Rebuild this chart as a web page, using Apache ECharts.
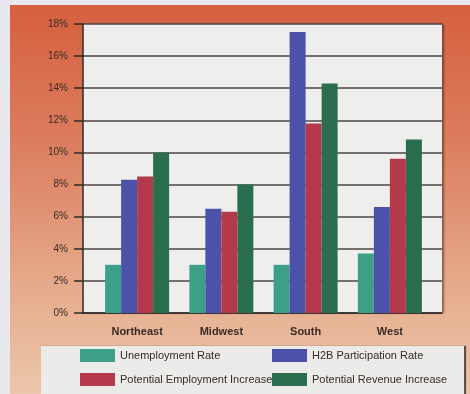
<!DOCTYPE html>
<html><head><meta charset="utf-8">
<script src="https://cdn.jsdelivr.net/npm/echarts@6/dist/echarts.min.js"></script>
<style>html,body{margin:0;padding:0;background:#e9e8ee}#c{width:470px;height:394px}</style>
</head><body><div id="c"></div>
<script>
const categories = ['Northeast', 'Midwest', 'South', 'West'];
const unemploymentRate = [3.0, 3.0, 3.0, 3.7];
const h2bParticipation = [8.3, 6.5, 17.5, 6.6];
const potentialEmployment = [8.5, 6.3, 11.8, 9.6];
const potentialRevenue = [10.0, 8.0, 14.3, 10.8];
const yTicks = [0, 2, 4, 6, 8, 10, 12, 14, 16, 18];

const FONT = '"Liberation Sans", Arial, sans-serif';
const TXT = '#3a2a26';
const colors = { u: '#3e9f88', h: '#4b52a8', e: '#b4394a', r: '#2b6d4f' };

const chart = echarts.init(document.getElementById('c'));
chart.setOption({
  animation: false,
  graphic: [
    { type: 'rect', z: -10, silent: true, shape: { x: 10, y: 5, width: 460, height: 389 },
      style: { fill: new echarts.graphic.LinearGradient(0, 0, 0, 1, [
        { offset: 0, color: '#d6603f' }, { offset: 0.35, color: '#db7d5e' },
        { offset: 0.75, color: '#e6ae8f' }, { offset: 1, color: '#ecc6aa' }]) } },
    { type: 'rect', z: -5, silent: true, shape: { x: 41, y: 346, width: 423, height: 50 },
      style: { fill: '#ebebea', shadowColor: 'rgba(40,30,30,0.7)', shadowOffsetX: 2, shadowBlur: 1 } }
  ],
  grid: [
    { left: 83, right: 28, top: 24, bottom: 81, show: true, backgroundColor: '#eeeeec', borderWidth: 0,
      shadowColor: 'rgba(60,30,20,0.55)', shadowOffsetX: 2, shadowBlur: 2 },
    { left: 95, right: 38, top: 24, bottom: 81 }
  ],
  legend: [
    { data: ['Unemployment Rate', 'Potential Employment Increase'], orient: 'vertical',
      left: 80, top: 349, padding: 0, itemWidth: 35, itemHeight: 13, itemGap: 11,
      textStyle: { fontFamily: FONT, fontSize: 11, color: TXT }, icon: 'rect' },
    { data: ['H2B Participation Rate', 'Potential Revenue Increase'], orient: 'vertical',
      left: 272, top: 349, padding: 0, itemWidth: 35, itemHeight: 13, itemGap: 11,
      textStyle: { fontFamily: FONT, fontSize: 11, color: TXT }, icon: 'rect' }
  ],
  xAxis: [
    { type: 'category', gridIndex: 0, data: categories, axisLabel: { show: false }, axisTick: { show: false },
      axisLine: { lineStyle: { color: '#2e2a2a', width: 1.5 } } },
    { type: 'category', gridIndex: 1, data: categories, axisTick: { show: false }, axisLine: { show: false },
      axisLabel: { fontFamily: FONT, fontSize: 11, fontWeight: 'bold', color: TXT, margin: 13 } }
  ],
  yAxis: [
    { type: 'value', gridIndex: 0, min: yTicks[0], max: yTicks[yTicks.length - 1], interval: 2,
      axisLine: { show: true, lineStyle: { color: '#2e2a2a', width: 1.5 } },
      axisTick: { show: true, length: 9, lineStyle: { color: '#2e2a2a', width: 1.5 } },
      axisLabel: { formatter: '{value}%', fontFamily: FONT, fontSize: 10, color: TXT, margin: 15 },
      splitLine: { lineStyle: { color: '#4a4646', width: 1.5 } } },
    { type: 'value', gridIndex: 1, min: yTicks[0], max: yTicks[yTicks.length - 1], interval: 2,
      axisLine: { show: false }, axisTick: { show: false }, axisLabel: { show: false }, splitLine: { show: false } }
  ],
  series: [
    { name: 'Unemployment Rate', type: 'bar', xAxisIndex: 1, yAxisIndex: 1, data: unemploymentRate, barWidth: 16, barGap: '0%', itemStyle: { color: colors.u } },
    { name: 'H2B Participation Rate', type: 'bar', xAxisIndex: 1, yAxisIndex: 1, data: h2bParticipation, barWidth: 16, barGap: '0%', itemStyle: { color: colors.h } },
    { name: 'Potential Employment Increase', type: 'bar', xAxisIndex: 1, yAxisIndex: 1, data: potentialEmployment, barWidth: 16, barGap: '0%', itemStyle: { color: colors.e } },
    { name: 'Potential Revenue Increase', type: 'bar', xAxisIndex: 1, yAxisIndex: 1, data: potentialRevenue, barWidth: 16, barGap: '0%', itemStyle: { color: colors.r } }
  ]
});
</script></body></html>
